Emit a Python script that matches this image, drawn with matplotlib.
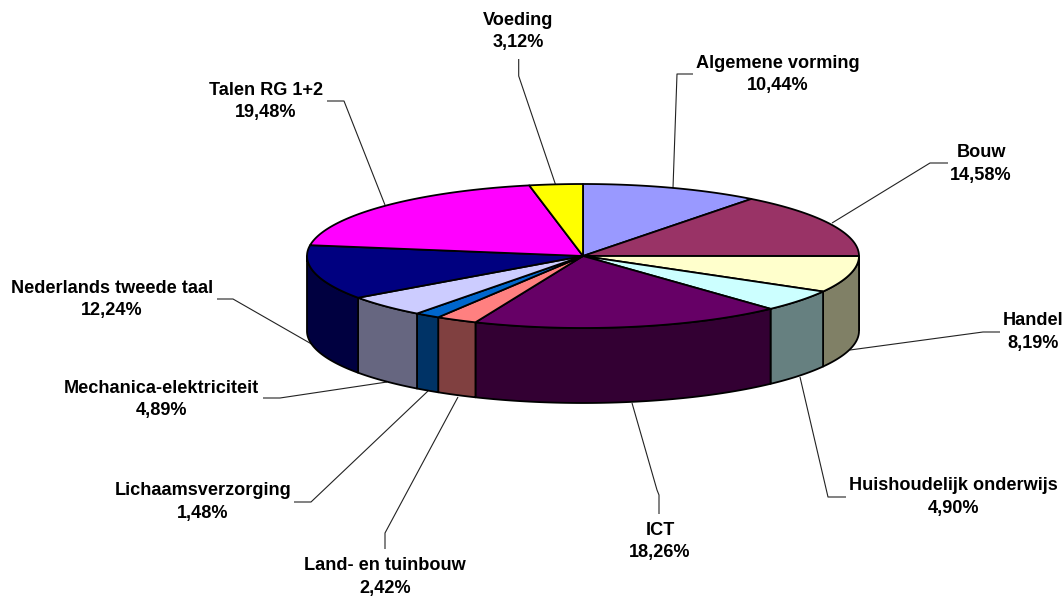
import numpy as np
import matplotlib
matplotlib.use('Agg')
import matplotlib.pyplot as plt
from matplotlib.patches import Polygon

plt.rcParams['font.family'] = ['Liberation Sans', 'DejaVu Sans']

##### data #####
names = ['Algemene vorming', 'Bouw', 'Handel', 'Huishoudelijk onderwijs', 'ICT',
         'Land- en tuinbouw', 'Lichaamsverzorging', 'Mechanica-elektriciteit',
         'Nederlands tweede taal', 'Talen RG 1+2', 'Voeding']
values = [10.44, 14.58, 8.19, 4.90, 18.26, 2.42, 1.48, 4.89, 12.24, 19.48, 3.12]
tops = ['#9999FF', '#993366', '#FFFFCC', '#CCFFFF', '#660066', '#FF8080',
        '#0066CC', '#CCCCFF', '#000080', '#FF00FF', '#FFFF00']
sides = ['#666680', '#4D1A33', '#808066', '#668080', '#330033', '#804040',
         '#003366', '#666680', '#000040', '#800080', '#808000']

# label anchor (centre of the two text lines) and leader line, in pixels
label_pos = [(778, 74.5), (981, 164), (1033, 332), (953, 497), (660, 541.5),
             (385, 577), (203, 502), (161.5, 399.5), (112, 299.5), (266, 101.5),
             (518.5, 31.5)]
leaders = [[(693, 74), (677, 74), (673, 188)],
           [(948, 163), (930, 163), (832, 223)],
           [(1000, 332), (983, 332), (850, 350)],
           [(846, 497), (828, 497), (800, 377)],
           [(659, 514), (659, 495), (657, 490), (632, 403)],
           [(385, 549), (385, 533), (458, 397)],
           [(294, 502), (311, 502), (428, 391)],
           [(263, 398), (280, 398), (387, 382)],
           [(217, 299), (233, 299), (315, 346)],
           [(327, 101), (344, 101), (385, 205)],
           [(518.7, 59), (518.7, 76), (556, 186)]]

cx, cy, rx, ry, depth = 583, 256, 276, 72, 75

fig = plt.figure(figsize=(10.64, 5.97), dpi=100)
ax = fig.add_axes([0, 0, 1, 1])
ax.set_xlim(0, 1064)
ax.set_ylim(597, 0)
ax.axis('off')


def rim(a0, a1, dy=0):
    # angles clockwise from 12 o'clock, in degrees
    t = np.radians(np.linspace(a0, a1, 80))
    return np.column_stack([cx + rx * np.sin(t), cy - ry * np.cos(t) + dy])


edges = np.cumsum([0] + values) / sum(values) * 360

# leader lines go under the pie
for pts in leaders:
    xs, ys = zip(*pts)
    ax.plot(xs, ys, color='#222222', lw=0.8, zorder=1, solid_capstyle='butt')

# side walls, only the front half of the rim shows
for i in range(len(values)):
    a0, a1 = max(edges[i], 90), min(edges[i + 1], 270)
    if a1 <= a0:
        continue
    wall = np.vstack([rim(a0, a1), rim(a0, a1, depth)[::-1]])
    ax.add_patch(Polygon(wall, closed=True, fc=sides[i], ec='black', lw=1.3,
                         joinstyle='round', zorder=2))

# top faces
for i in range(len(values)):
    face = np.vstack([[(cx, cy)], rim(edges[i], edges[i + 1])])
    ax.add_patch(Polygon(face, closed=True, fc=tops[i], ec='black', lw=1.3,
                         joinstyle='round', zorder=3))

for name, val, pos in zip(names, values, label_pos):
    txt = '%s\n%s%%' % (name, ('%.2f' % val).replace('.', ','))
    ax.text(pos[0], pos[1], txt, ha='center', va='center', fontsize=13.1,
            fontweight='bold', color='black', linespacing=1.42, zorder=4)

fig.savefig('out.png', dpi=100, facecolor='white')
